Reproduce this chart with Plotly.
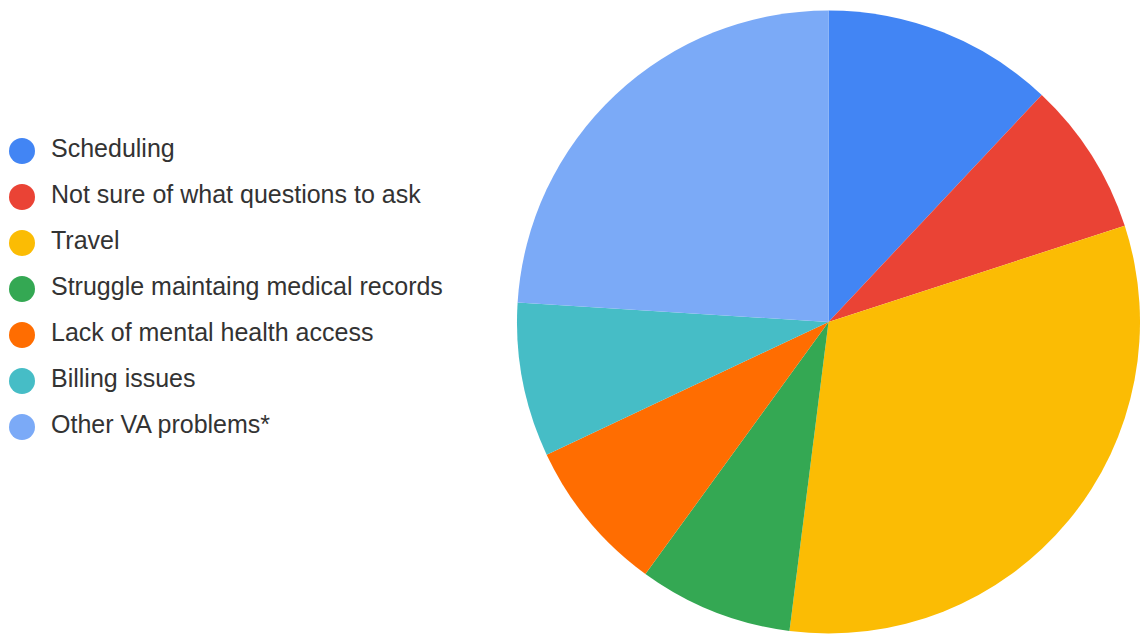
import plotly.graph_objects as go

# Survey responses: problems reported with VA care
categories = [
    "Scheduling",
    "Not sure of what questions to ask",
    "Travel",
    "Struggle maintaing medical records",
    "Lack of mental health access",
    "Billing issues",
    "Other VA problems*",
]
responses = [3, 2, 8, 2, 2, 2, 6]
colors = ["#4285F4", "#EA4335", "#FBBC04", "#34A853", "#FF6D01", "#46BDC6", "#7BAAF7"]

W, H = 1140, 640
FONT = "Liberation Sans, Arial, sans-serif"

fig = go.Figure()

# Pie chart, clockwise from 12 o'clock, no slice labels
fig.add_trace(go.Pie(
    labels=categories,
    values=responses,
    sort=False,
    direction="clockwise",
    rotation=0,
    marker=dict(colors=colors, line=dict(width=0)),
    textinfo="none",
    hoverinfo="label+value+percent",
    showlegend=False,
    domain=dict(x=[517 / W, 1.0], y=[3 / H, 633 / H]),
))

# Custom legend: round swatches and labels on a hidden axis pair
rows = list(range(len(categories)))
fig.add_trace(go.Scatter(
    x=[0] * len(categories),
    y=rows,
    mode="markers",
    marker=dict(size=26, color=colors, line=dict(width=0)),
    hoverinfo="skip",
    showlegend=False,
))
fig.add_trace(go.Scatter(
    x=[29] * len(categories),
    y=rows,
    mode="text",
    text=categories,
    textposition="middle right",
    textfont=dict(family=FONT, size=25, color="#333333"),
    hoverinfo="skip",
    showlegend=False,
))

row_top, row_gap = 149, 46
fig.update_layout(
    width=W,
    height=H,
    margin=dict(l=0, r=0, t=0, b=0),
    paper_bgcolor="white",
    plot_bgcolor="rgba(0,0,0,0)",
    font=dict(family=FONT),
    xaxis=dict(domain=[0, 0.45], range=[-22, 0.45 * W - 22], visible=False, fixedrange=True),
    yaxis=dict(
        domain=[0, 1],
        range=[(H - row_top - 2) / row_gap, -(row_top + 2) / row_gap],
        visible=False,
        fixedrange=True,
    ),
)

fig.write_html("out.html")
